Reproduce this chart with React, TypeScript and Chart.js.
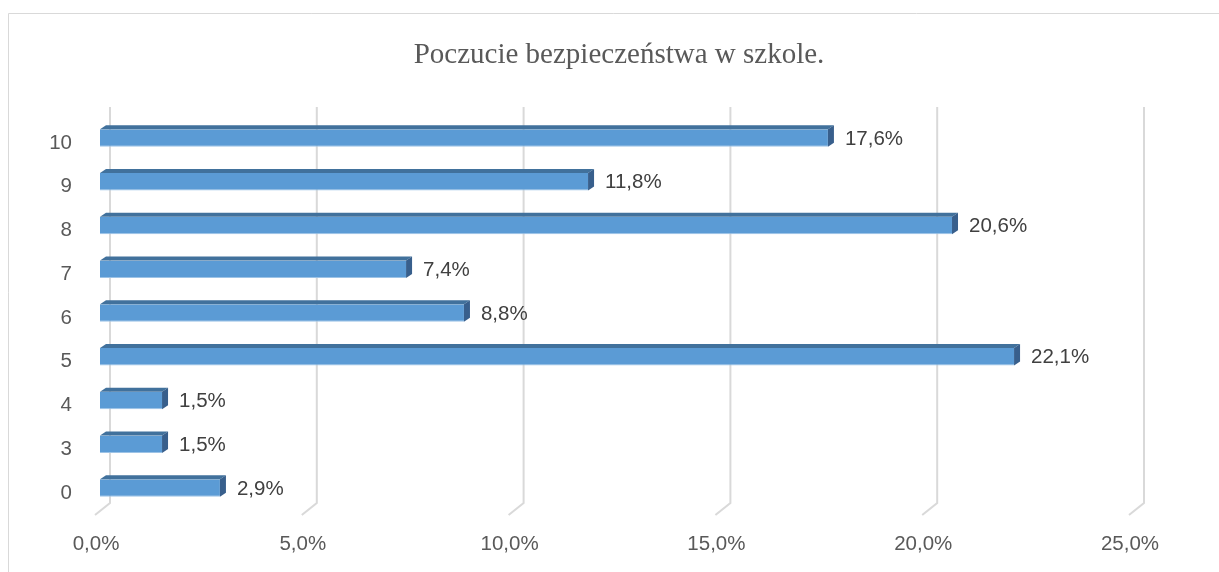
import React, { useEffect, useRef } from 'react';
import { Chart, registerables } from 'chart.js';

Chart.register(...registerables);

const TITLE = 'Poczucie bezpieczeństwa w szkole.';
const CATEGORIES = ['10', '9', '8', '7', '6', '5', '4', '3', '0'];
const VALUES = [17.6, 11.8, 20.6, 7.4, 8.8, 22.1, 1.5, 1.5, 2.9];
const X_TICKS = [0, 5, 10, 15, 20, 25];

const W = 1219;
const H = 572;
const FONT = "'Liberation Sans', Arial, sans-serif";
const FS = 20.5;
const DX = 6;
const DY = 4;

const fmt = (v: number) => Number(v).toFixed(1).replace('.', ',') + '%';

const decor = {
  id: 'decor',
  beforeDraw(chart: any) {
    const ctx = chart.ctx;
    ctx.save();
    ctx.fillStyle = '#ffffff';
    ctx.fillRect(0, 0, W, H);
    ctx.strokeStyle = '#D9D9D9';
    ctx.lineWidth = 1;
    ctx.beginPath();
    ctx.moveTo(8.5, H);
    ctx.lineTo(8.5, 13.5);
    ctx.lineTo(W, 13.5);
    ctx.stroke();

    ctx.fillStyle = '#595959';
    ctx.font = "29px 'Liberation Serif', 'Times New Roman', serif";
    ctx.textAlign = 'center';
    ctx.textBaseline = 'middle';
    ctx.fillText(TITLE, 619, 55);

    const xs = chart.scales.x;
    const { top, bottom } = chart.chartArea;
    ctx.strokeStyle = '#D9D9D9';
    ctx.lineWidth = 2;
    for (const t of X_TICKS) {
      const xb = xs.getPixelForValue(t) + 10;
      ctx.beginPath();
      ctx.moveTo(xb, top - 9);
      ctx.lineTo(xb, bottom - 7);
      ctx.lineTo(xb - 15, bottom + 5);
      ctx.stroke();
    }
    ctx.restore();
  },
  afterDatasetsDraw(chart: any) {
    const ctx = chart.ctx;
    const meta = chart.getDatasetMeta(0);
    ctx.save();
    meta.data.forEach((el: any, i: number) => {
      const { x, y, base, height } = el.getProps(['x', 'y', 'base', 'height'], true);
      const t = y - height / 2;
      const b = y + height / 2;
      ctx.fillStyle = '#41719C';
      ctx.beginPath();
      ctx.moveTo(base, t);
      ctx.lineTo(base + DX, t - DY);
      ctx.lineTo(x + DX, t - DY);
      ctx.lineTo(x, t);
      ctx.closePath();
      ctx.fill();
      ctx.fillStyle = '#385F8C';
      ctx.beginPath();
      ctx.moveTo(x, t);
      ctx.lineTo(x + DX, t - DY);
      ctx.lineTo(x + DX, b - DY);
      ctx.lineTo(x, b);
      ctx.closePath();
      ctx.fill();

      ctx.fillStyle = '#404040';
      ctx.font = FS + 'px ' + FONT;
      ctx.textAlign = 'left';
      ctx.textBaseline = 'middle';
      ctx.fillText(fmt(VALUES[i]), x + 17, y + 1);
    });
    ctx.restore();
  },
};

export default function App() {
  const ref = useRef<HTMLCanvasElement | null>(null);

  useEffect(() => {
    document.body.style.margin = '0';
    const canvas = ref.current;
    if (!canvas) return;
    const chart = new Chart(canvas, {
      type: 'bar',
      data: {
        labels: CATEGORIES,
        datasets: [
          {
            data: VALUES,
            backgroundColor: '#5B9BD5',
            borderColor: '#9DC3E6',
            borderWidth: { top: 0, left: 0, right: 0, bottom: 1 },
            borderSkipped: false,
            barPercentage: 0.5,
            categoryPercentage: 0.8,
          },
        ],
      },
      options: {
        indexAxis: 'y',
        responsive: false,
        animation: false,
        devicePixelRatio: 1,
        layout: { padding: { left: 0, right: 85, top: 116, bottom: 0 } },
        plugins: {
          legend: { display: false },
          title: { display: false },
          tooltip: { enabled: false },
        },
        scales: {
          x: {
            min: 0,
            max: 25,
            afterBuildTicks: (s: any) => {
              s.ticks = X_TICKS.map((v) => ({ value: v }));
            },
            ticks: {
              callback: (v: any) => fmt(v),
              font: { family: FONT, size: FS },
              color: '#595959',
              padding: 22,
              labelOffset: -4,
              maxRotation: 0,
              autoSkip: false,
            },
            grid: { display: false, drawTicks: false },
            border: { display: false },
            afterFit: (s: any) => {
              s.height = 62;
            },
          },
          y: {
            ticks: {
              font: { family: FONT, size: FS },
              color: '#595959',
              padding: 28,
              labelOffset: 5,
              autoSkip: false,
            },
            grid: { display: false, drawTicks: false },
            border: { display: false },
            afterFit: (s: any) => {
              s.width = 100;
            },
          },
        },
      },
      plugins: [decor],
    } as any);
    return () => chart.destroy();
  }, []);

  return (
    <div style={{ width: W, height: H }}>
      <canvas ref={ref} width={W} height={H} style={{ display: 'block' }} />
    </div>
  );
}
